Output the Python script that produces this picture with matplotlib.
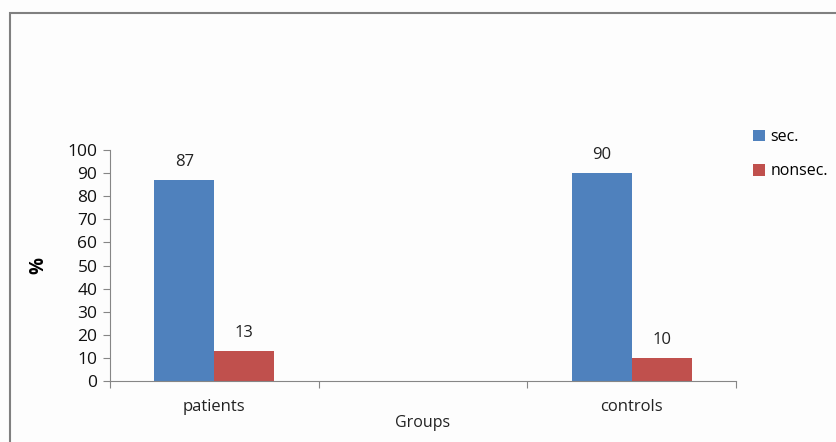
import numpy as np
import matplotlib.pyplot as plt
from matplotlib.patches import Rectangle

# Percentages per group; the empty middle slot keeps the two groups apart
grupos = ["patients", "", "controls"]
sec = [87, np.nan, 90]
nonsec = [13, np.nan, 10]
series_labels = ["sec.", "nonsec."]
yticks = list(range(0, 101, 10))

cor_sec = "#4F81BD"
cor_nonsec = "#C0504D"
cor_eixo = "#868686"

plt.rcParams['font.family'] = ['Open Sans', 'DejaVu Sans']

fig = plt.figure(figsize=(8.37, 4.42), dpi=100, facecolor="#fdfdfd")
fig.patches.append(Rectangle((10 / 837, -0.05), 1.0, 1 - 12.5 / 442 + 0.05,
                             transform=fig.transFigure, fill=False,
                             edgecolor="#808080", linewidth=1.5))

ax = fig.add_axes([110 / 837, 1 - 381 / 442, 626 / 837, 231 / 442])
ax.set_facecolor("#fdfdfd")

x = np.arange(len(grupos))
largura = 0.287
b1 = ax.bar(x - largura / 2, sec, largura, color=cor_sec, label=series_labels[0], zorder=2)
b2 = ax.bar(x + largura / 2, nonsec, largura, color=cor_nonsec, label=series_labels[1], zorder=2)

for barras in (b1, b2):
    for rect in barras:
        h = rect.get_height()
        if np.isnan(h):
            continue
        ax.annotate(f"{h:.0f}", (rect.get_x() + rect.get_width() / 2, h),
                    xytext=(0, 7), textcoords="offset points",
                    ha="center", va="bottom", fontsize=12, color="#222222")

ax.set_xlim(-0.5, len(grupos) - 0.5)
ax.set_ylim(0, 100)
ax.set_yticks(yticks)
ax.tick_params(axis="y", labelsize=12.5, length=5, color=cor_eixo, pad=4, labelcolor="#111111")

# category labels sit at the centres, tick marks at the category boundaries
ax.set_xticks(np.arange(len(grupos) + 1) - 0.5)
ax.set_xticklabels([])
ax.set_xticks(x, minor=True)
ax.set_xticklabels(grupos, minor=True, fontsize=12, color="#222222")
ax.tick_params(axis="x", which="major", length=5, color=cor_eixo)
ax.tick_params(axis="x", which="minor", length=0, pad=13)

for lado in ("top", "right"):
    ax.spines[lado].set_visible(False)
for lado in ("left", "bottom"):
    ax.spines[lado].set_color(cor_eixo)

ax.set_ylabel("%", fontsize=13.5, fontweight="bold", labelpad=14)
ax.set_xlabel("Groups", fontsize=11.5, color="#222222", labelpad=0)

ax.legend(loc="upper left", bbox_to_anchor=(753 / 837, 1 - 129 / 442),
          bbox_transform=fig.transFigure, frameon=False, fontsize=11.5,
          borderpad=0, borderaxespad=0,
          handlelength=0.75, handleheight=0.75, handletextpad=0.35, labelspacing=1.15)

fig.savefig("out.png", dpi=100, facecolor=fig.get_facecolor())
